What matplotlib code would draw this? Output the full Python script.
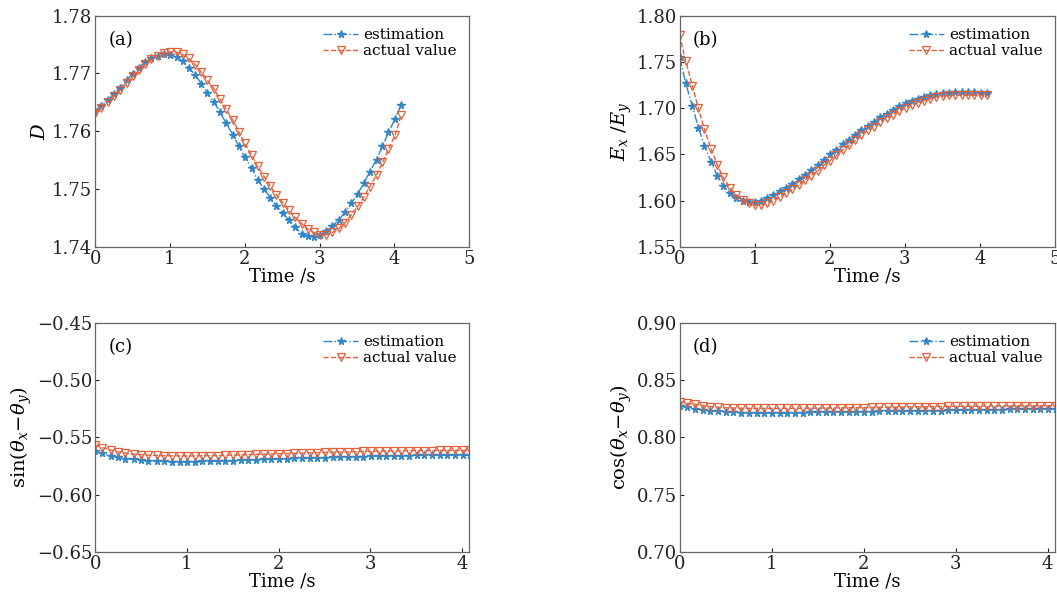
import matplotlib
matplotlib.use('Agg')
import matplotlib.pyplot as plt

plt.rcParams['font.family'] = 'DejaVu Serif'
plt.rcParams['mathtext.fontset'] = 'dejavuserif'

# sample times [s]
time = [0.00, 0.08, 0.17, 0.25, 0.33, 0.42, 0.50, 0.58, 0.67, 0.75,
        0.84, 0.92, 1.00, 1.09, 1.17, 1.25, 1.34, 1.42, 1.50, 1.59,
        1.67, 1.75, 1.84, 1.92, 2.00, 2.09, 2.17, 2.26, 2.34, 2.42,
        2.51, 2.59, 2.67, 2.76, 2.84, 2.92, 3.01, 3.09, 3.17, 3.26,
        3.34, 3.42, 3.51, 3.59, 3.67, 3.76, 3.84, 3.92, 4.01, 4.09]

D_est = [1.7635, 1.7644, 1.7654, 1.7664, 1.7675, 1.7688, 1.7699, 1.7710, 1.7720, 1.7727,
         1.7731, 1.7733, 1.7732, 1.7728, 1.7721, 1.7710, 1.7697, 1.7682, 1.7666, 1.7650,
         1.7633, 1.7614, 1.7594, 1.7574, 1.7555, 1.7536, 1.7516, 1.7500, 1.7485, 1.7471,
         1.7458, 1.7446, 1.7434, 1.7423, 1.7418, 1.7417, 1.7420, 1.7427, 1.7436, 1.7447,
         1.7460, 1.7475, 1.7492, 1.7510, 1.7530, 1.7551, 1.7574, 1.7598, 1.7622, 1.7646]
D_act = [1.7632, 1.7641, 1.7651, 1.7661, 1.7672, 1.7684, 1.7695, 1.7706, 1.7716, 1.7725,
         1.7731, 1.7735, 1.7737, 1.7737, 1.7733, 1.7726, 1.7715, 1.7702, 1.7688, 1.7673,
         1.7656, 1.7638, 1.7619, 1.7599, 1.7579, 1.7559, 1.7539, 1.7521, 1.7505, 1.7490,
         1.7476, 1.7463, 1.7451, 1.7440, 1.7431, 1.7425, 1.7421, 1.7421, 1.7425, 1.7432,
         1.7442, 1.7455, 1.7470, 1.7486, 1.7504, 1.7524, 1.7546, 1.7569, 1.7594, 1.7628]

E_est = [1.755, 1.727, 1.702, 1.679, 1.659, 1.642, 1.627, 1.616, 1.608, 1.603,
         1.600, 1.599, 1.599, 1.600, 1.603, 1.606, 1.610, 1.614, 1.618, 1.623,
         1.628, 1.633, 1.638, 1.644, 1.650, 1.655, 1.661, 1.666, 1.671, 1.676,
         1.681, 1.685, 1.690, 1.694, 1.698, 1.702, 1.705, 1.708, 1.710, 1.712,
         1.714, 1.715, 1.716, 1.716, 1.717, 1.717, 1.717, 1.717, 1.716, 1.716]
E_act = [1.779, 1.751, 1.724, 1.700, 1.677, 1.656, 1.639, 1.625, 1.614, 1.606,
         1.601, 1.597, 1.595, 1.595, 1.597, 1.600, 1.604, 1.608, 1.612, 1.617,
         1.622, 1.627, 1.632, 1.638, 1.643, 1.649, 1.655, 1.660, 1.665, 1.671,
         1.676, 1.680, 1.685, 1.689, 1.693, 1.697, 1.700, 1.703, 1.706, 1.708,
         1.710, 1.712, 1.713, 1.714, 1.714, 1.714, 1.714, 1.714, 1.714, 1.714]

sin_est = [-0.5620, -0.5640, -0.5660, -0.5675, -0.5685, -0.5693, -0.5700, -0.5705, -0.5708, -0.5710,
           -0.5712, -0.5712, -0.5712, -0.5711, -0.5710, -0.5709, -0.5707, -0.5705, -0.5703, -0.5700,
           -0.5698, -0.5696, -0.5693, -0.5691, -0.5689, -0.5686, -0.5684, -0.5682, -0.5680, -0.5678,
           -0.5676, -0.5674, -0.5672, -0.5670, -0.5668, -0.5667, -0.5665, -0.5664, -0.5662, -0.5661,
           -0.5660, -0.5659, -0.5658, -0.5657, -0.5656, -0.5655, -0.5654, -0.5654, -0.5653, -0.5653]
sin_act = [-0.5570, -0.5590, -0.5610, -0.5625, -0.5637, -0.5645, -0.5651, -0.5655, -0.5658, -0.5660,
           -0.5661, -0.5662, -0.5662, -0.5662, -0.5661, -0.5660, -0.5659, -0.5657, -0.5655, -0.5653,
           -0.5651, -0.5649, -0.5647, -0.5645, -0.5643, -0.5641, -0.5639, -0.5637, -0.5635, -0.5633,
           -0.5631, -0.5629, -0.5628, -0.5626, -0.5625, -0.5623, -0.5622, -0.5621, -0.5620, -0.5619,
           -0.5618, -0.5617, -0.5616, -0.5615, -0.5615, -0.5614, -0.5614, -0.5613, -0.5613, -0.5613]

cos_est = [0.8275, 0.8262, 0.8250, 0.8240, 0.8232, 0.8226, 0.8221, 0.8218, 0.8216, 0.8215,
           0.8214, 0.8214, 0.8214, 0.8214, 0.8215, 0.8215, 0.8216, 0.8217, 0.8218, 0.8219,
           0.8220, 0.8221, 0.8222, 0.8223, 0.8224, 0.8225, 0.8226, 0.8227, 0.8228, 0.8229,
           0.8230, 0.8231, 0.8232, 0.8233, 0.8234, 0.8235, 0.8236, 0.8237, 0.8238, 0.8239,
           0.8240, 0.8241, 0.8242, 0.8243, 0.8244, 0.8244, 0.8245, 0.8245, 0.8246, 0.8246]
cos_act = [0.8310, 0.8298, 0.8287, 0.8277, 0.8269, 0.8263, 0.8259, 0.8256, 0.8254, 0.8253,
           0.8252, 0.8252, 0.8252, 0.8252, 0.8253, 0.8253, 0.8254, 0.8254, 0.8255, 0.8256,
           0.8257, 0.8257, 0.8258, 0.8259, 0.8260, 0.8261, 0.8262, 0.8263, 0.8264, 0.8265,
           0.8266, 0.8267, 0.8267, 0.8268, 0.8269, 0.8270, 0.8270, 0.8271, 0.8272, 0.8272,
           0.8273, 0.8273, 0.8274, 0.8274, 0.8275, 0.8275, 0.8275, 0.8276, 0.8276, 0.8276]

blue = '#2f86c8'
red = '#e5603a'

fig = plt.figure(figsize=(10.57, 6.02), dpi=100)
positions = [[0.090, 0.590, 0.354, 0.384],
             [0.643, 0.590, 0.355, 0.384],
             [0.090, 0.083, 0.354, 0.381],
             [0.643, 0.083, 0.355, 0.381]]
panels = [
    ('(a)', D_est, D_act, (1.74, 1.78), 0.01, (0, 5), r'$D$'),
    ('(b)', E_est, E_act, (1.55, 1.80), 0.05, (0, 5), r'$E_x\ /E_y$'),
    ('(c)', sin_est, sin_act, (-0.65, -0.45), 0.05, (0, 4.08), r'$\mathrm{sin}(\theta_x\!-\!\theta_y)$'),
    ('(d)', cos_est, cos_act, (0.70, 0.90), 0.05, (0, 4.08), r'$\mathrm{cos}(\theta_x\!-\!\theta_y)$'),
]

for pos, (tag, est, act, ylim, ystep, xlim, ylabel) in zip(positions, panels):
    ax = fig.add_axes(pos)
    ax.plot(time, est, '-.', color=blue, lw=1.0, marker='*', ms=5.5,
            mfc=blue, mec=blue, label='estimation')
    ax.plot(time, act, '--', color=red, lw=1.0, marker='v', ms=6,
            mfc='none', mec=red, mew=0.9, label='actual value')
    ax.set_xlim(*xlim)
    ax.set_ylim(*ylim)
    n = int(round((ylim[1] - ylim[0]) / ystep))
    ax.set_yticks([ylim[0] + i * ystep for i in range(n + 1)])
    ax.set_xticks(range(0, int(xlim[1]) + 1))
    ax.tick_params(direction='in', length=3, labelsize=13, colors='#222222',
                   top=False, right=False, pad=2)
    for s in ax.spines.values():
        s.set_color('#666666')
        s.set_linewidth(0.9)
    ax.set_xlabel('Time /s', fontsize=13, labelpad=0)
    ax.set_ylabel(ylabel, fontsize=14, labelpad=2)
    ax.text(0.035, 0.895, tag, transform=ax.transAxes, fontsize=13,
            va='center', ha='left')
    ax.legend(loc='upper right', frameon=False, fontsize=11, handlelength=2.3,
              handletextpad=0.35, labelspacing=0.15, borderaxespad=0.4,
              bbox_to_anchor=(1.0, 1.0))

fig.savefig('out.png', dpi=100)
